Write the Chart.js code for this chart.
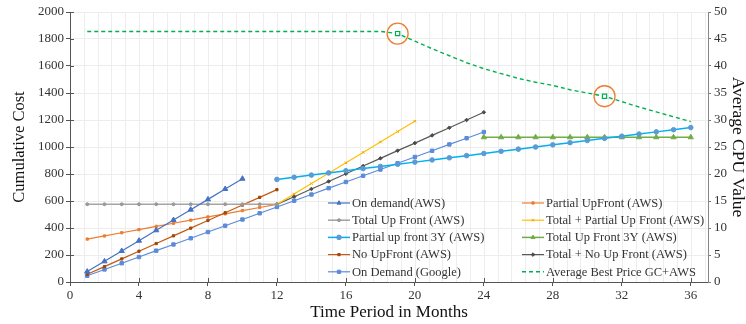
<!DOCTYPE html>
<html>
<head>
<meta charset="utf-8">
<script src="https://cdn.jsdelivr.net/npm/chart.js@4"></script>
<style>
  html, body { margin: 0; padding: 0; background: #fff; }
</style>
</head>
<body>
<canvas id="chart" width="746" height="324"></canvas>
<script>
// series values (cumulative cost), each list starts at the month given next to it
const onDemandAwsStart = 1;
const onDemandAws = [77, 153, 230, 306, 383, 459, 536, 612, 689, 765];

const partialUpfrontStart = 1;
const partialUpfront = [318, 341, 365, 388, 412, 435, 458, 482, 505, 529, 552, 575];

const totalUpfrontStart = 1;
const totalUpfront = [576, 576, 576, 576, 576, 576, 576, 576, 576, 576, 576, 576];

const totalPartialStart = 12;
const totalPartial = [575, 652, 729, 806, 883, 960, 1037, 1114, 1191];

const partial3yStart = 12;
const partial3y = [760, 776, 792, 808, 824, 840, 856, 872, 888, 904, 920, 936, 952,
  968, 984, 1000, 1016, 1032, 1048, 1064, 1080, 1096, 1112, 1128, 1144];

const total3yStart = 24;
const total3y = [1072, 1072, 1072, 1072, 1072, 1072, 1072, 1072, 1072, 1072, 1072, 1072, 1072];

const noUpfrontStart = 1;
const noUpfront = [57, 114, 171, 228, 285, 342, 399, 456, 513, 570, 627, 684];

const totalNoUpStart = 12;
const totalNoUp = [575, 632, 689, 745, 802, 859, 916, 973, 1029, 1086, 1143, 1200, 1257];

const googleStart = 1;
const googleOnDemand = [46, 93, 139, 185, 232, 278, 324, 370, 417, 463, 509, 556,
  602, 648, 695, 741, 787, 833, 880, 926, 972, 1019, 1065, 1111];

// right axis: average CPU value
const avgBestStart = 1;
const avgBest = [46.4, 46.4, 46.4, 46.4, 46.4, 46.4, 46.4, 46.4, 46.4, 46.4, 46.4, 46.4,
  46.4, 46.4, 46.4, 46.4, 46.4, 46.4, 46.0, 44.6, 43.2, 41.9, 40.6, 39.5, 38.6, 37.7,
  37.0, 36.4, 35.6, 35.0, 34.4, 33.4, 32.4, 31.5, 30.6, 29.7];
const highlightMonths = [19, 31];

const xTicks = [0, 4, 8, 12, 16, 20, 24, 28, 32, 36];

function pts(start, values) {
  return values.map((v, i) => ({ x: start + i, y: v }));
}

const SERIF = "'Liberation Serif', 'DejaVu Serif', serif";

function line(label, start, values, color, marker, markerColor, radius, extra) {
  return Object.assign({
    label,
    data: pts(start, values),
    borderColor: color,
    backgroundColor: markerColor || color,
    pointBorderColor: markerColor || color,
    pointBackgroundColor: markerColor || color,
    pointStyle: marker,
    pointRadius: radius,
    pointBorderWidth: 1,
    borderWidth: 1.2,
    yAxisID: 'y',
    tension: 0
  }, extra || {});
}

const datasets = [
  line('On demand(AWS)', onDemandAwsStart, onDemandAws, '#4472C4', 'triangle', '#4472C4', 3),
  line('Total Up Front (AWS)', totalUpfrontStart, totalUpfront, '#A5A5A5', 'circle', '#999999', 1.5, { borderWidth: 1.6 }),
  line('Partial up front 3Y (AWS)', partial3yStart, partial3y, '#00B0F0', 'circle', '#5B9BD5', 2.3, { borderWidth: 1.5 }),
  line('No UpFront (AWS)', noUpfrontStart, noUpfront, '#C55A11', 'rect', '#9E480E', 1.6),
  line('On Demand (Google)', googleStart, googleOnDemand, '#5B8BD9', 'rect', '#5B8BD9', 2.4),
  line('Partial UpFront (AWS)', partialUpfrontStart, partialUpfront, '#ED7D31', 'rect', '#ED7D31', 1.6),
  line('Total + Partial Up Front (AWS)', totalPartialStart, totalPartial, '#FFC000', 'crossRot', '#F0A800', 1.8),
  line('Total Up Front 3Y (AWS)', total3yStart, total3y, '#70AD47', 'triangle', '#70AD47', 3, { borderWidth: 1.5 }),
  line('Total + No Up Front (AWS)', totalNoUpStart, totalNoUp, '#595959', 'rectRot', '#4a4a4a', 1.8),
  {
    label: 'Average Best Price GC+AWS',
    data: pts(avgBestStart, avgBest),
    yAxisID: 'y2',
    borderColor: '#00B050',
    borderDash: [4, 3],
    borderWidth: 1.4,
    pointStyle: 'rect',
    pointRadius: ctx => highlightMonths.includes(ctx.raw && ctx.raw.x) ? 3 : 0,
    pointBorderColor: '#00B050',
    pointBackgroundColor: '#fff',
    pointBorderWidth: 1.2,
    tension: 0
  },
  {
    label: 'highlight',
    data: highlightMonths.map(m => ({ x: m, y: avgBest[m - avgBestStart] })),
    yAxisID: 'y2',
    showLine: false,
    pointStyle: 'circle',
    pointRadius: 10.5,
    pointBorderColor: '#ED7D31',
    pointBackgroundColor: 'rgba(0,0,0,0)',
    pointBorderWidth: 1.3
  }
];

// legend: two columns inside the plot
const legendCols = [
  ['On demand(AWS)', 'Total Up Front (AWS)', 'Partial up front 3Y (AWS)', 'No UpFront (AWS)', 'On Demand (Google)'],
  ['Partial UpFront (AWS)', 'Total + Partial Up Front (AWS)', 'Total Up Front 3Y (AWS)', 'Total + No Up Front (AWS)', 'Average Best Price GC+AWS']
];

const innerLegend = {
  id: 'innerLegend',
  afterDraw(chart, args, opts) {
    const ctx = chart.ctx;
    ctx.save();
    ctx.font = opts.font;
    ctx.textBaseline = 'middle';
    ctx.fillStyle = '#333';
    legendCols.forEach((col, c) => {
      col.forEach((name, r) => {
        const ds = chart.data.datasets.find(d => d.label === name);
        const x0 = opts.x + c * opts.colGap;
        const y = opts.y + r * opts.rowGap;
        ctx.save();
        ctx.strokeStyle = ds.borderColor;
        ctx.lineWidth = ds.borderWidth;
        ctx.setLineDash(ds.borderDash || []);
        ctx.beginPath();
        ctx.moveTo(x0, y);
        ctx.lineTo(x0 + opts.lineLen, y);
        ctx.stroke();
        ctx.setLineDash([]);
        if (typeof ds.pointRadius === 'number') {
          ctx.fillStyle = ds.pointBackgroundColor;
          ctx.strokeStyle = ds.pointBorderColor;
          ctx.lineWidth = 1;
          Chart.helpers.drawPoint(ctx, { pointStyle: ds.pointStyle, radius: Math.min(ds.pointRadius, 2.3), rotation: 0, borderWidth: 1 }, x0 + opts.lineLen / 2, y);
        }
        ctx.restore();
        ctx.fillText(name, x0 + opts.lineLen + 2, y + 0.5);
      });
    });
    ctx.restore();
  }
};

// light vertical grid and ticks that cross the axis lines
const axisDecor = {
  id: 'axisDecor',
  beforeDatasetsDraw(chart) {
    const { ctx, chartArea: a, scales: { x } } = chart;
    ctx.save();
    ctx.strokeStyle = '#ededed';
    ctx.lineWidth = 1;
    for (let k = 1; k * 0.8 < 37; k++) {
      const px = Math.round(x.getPixelForValue(k * 0.8)) + 0.5;
      ctx.beginPath();
      ctx.moveTo(px, a.top);
      ctx.lineTo(px, a.bottom);
      ctx.stroke();
    }
    ctx.restore();
  },
  afterDraw(chart) {
    const { ctx, chartArea: a, scales: { x, y } } = chart;
    ctx.save();
    ctx.strokeStyle = '#555';
    ctx.lineWidth = 1;
    x.ticks.forEach(t => {
      const px = Math.round(x.getPixelForValue(t.value)) + 0.5;
      ctx.beginPath();
      ctx.moveTo(px, a.bottom);
      ctx.lineTo(px, a.bottom - 4);
      ctx.stroke();
    });
    y.ticks.forEach(t => {
      const py = Math.round(y.getPixelForValue(t.value)) + 0.5;
      ctx.beginPath();
      ctx.moveTo(a.left, py);
      ctx.lineTo(a.left + 4, py);
      ctx.stroke();
    });
    ctx.restore();
  }
};

const plain = v => String(v);

new Chart(document.getElementById('chart'), {
  type: 'line',
  data: { datasets },
  plugins: [axisDecor, innerLegend],
  options: {
    responsive: false,
    animation: false,
    layout: { padding: { top: 12, left: 0, right: 0, bottom: 0 } },
    plugins: {
      legend: { display: false },
      tooltip: { enabled: false },
      innerLegend: { font: '12.5px ' + SERIF, x: 328, y: 203, colGap: 194, rowGap: 17.2, lineLen: 22 }
    },
    scales: {
      x: {
        type: 'linear',
        min: 0,
        max: 37,
        afterFit: s => { s.height = 42; },
        afterBuildTicks: s => { s.ticks = xTicks.map(v => ({ value: v })); },
        ticks: { font: { family: SERIF, size: 13 }, color: '#333', padding: 2, maxRotation: 0, callback: plain },
        grid: { drawOnChartArea: false, tickLength: 4, tickColor: '#555' },
        border: { color: '#555', width: 1 },
        title: { display: true, text: 'Time Period in Months', font: { family: SERIF, size: 17 }, color: '#111', padding: { top: 0, bottom: 1 } }
      },
      y: {
        position: 'left',
        min: 0,
        max: 2000,
        afterFit: s => { s.width = 70; },
        ticks: { stepSize: 200, font: { family: SERIF, size: 13 }, color: '#333', padding: 2, callback: plain },
        grid: { color: '#ededed', tickLength: 4, tickColor: '#555' },
        border: { color: '#555', width: 1 },
        title: { display: true, text: 'Cumulative Cost', font: { family: SERIF, size: 16.5 }, color: '#111', padding: { top: 10, bottom: 0 } }
      },
      y2: {
        position: 'right',
        min: 0,
        max: 50,
        afterFit: s => { s.width = 38; },
        ticks: { stepSize: 5, font: { family: SERIF, size: 13 }, color: '#333', padding: 3, callback: plain },
        grid: { drawOnChartArea: false, tickLength: 3, tickColor: '#777' },
        border: { color: '#888', width: 1, dash: [1.5, 1.5] },
        title: { display: true, text: 'Average CPU Value', font: { family: SERIF, size: 17.5, lineHeight: 1 }, color: '#111', padding: { top: 0, bottom: 0 } }
      }
    }
  }
});
</script>
</body>
</html>
